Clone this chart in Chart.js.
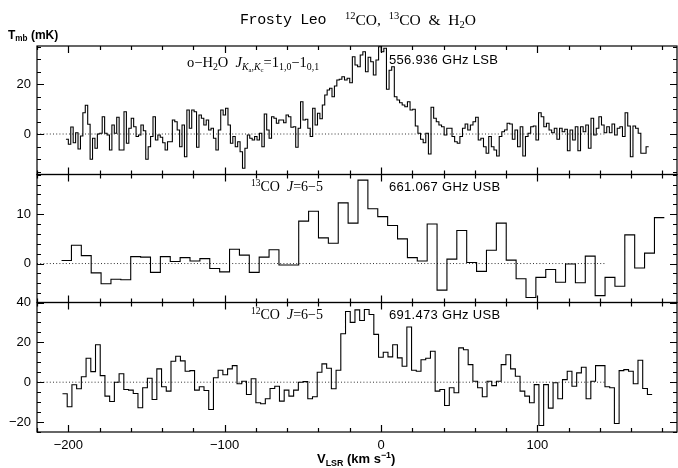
<!DOCTYPE html>
<html>
<head>
<meta charset="utf-8">
<script src="https://cdn.jsdelivr.net/npm/chart.js@4.4.1/dist/chart.umd.min.js"></script>
<style>
  body { margin: 0; background: #fff; }
  #wrap { position: relative; width: 678px; height: 468px; overflow: hidden; background: #fff; }
  #c { position: absolute; left: 0; top: 0; }
  .t { position: absolute; white-space: pre; line-height: 1; color: #000; }
  .serif { font-family: "Liberation Serif", "DejaVu Serif", serif; }
  .sans { font-family: "Liberation Sans", Arial, sans-serif; }
  .t sup { font-size: 68%; vertical-align: 0.55em; line-height: 0; }
  .t sub { font-size: 68%; vertical-align: -0.3em; line-height: 0; }
  .t i { font-style: italic; }
</style>
</head>
<body>
<div id="wrap">
  <canvas id="c" width="678" height="468"></canvas>

  <div class="t" style="left:240px;top:12px;font:15px 'Liberation Mono',monospace;letter-spacing:-0.4px">Frosty Leo</div>
  <div class="t serif" style="left:345px;top:12px;font-size:15.5px"><sup>12</sup>CO,  <sup>13</sup>CO  &amp;  H<sub>2</sub>O</div>

  <div class="t sans" style="left:8px;top:29px;font-size:12px;font-weight:bold">T<sub>mb</sub> (mK)</div>
  <div class="t sans" style="left:317px;top:452px;font-size:13px;font-weight:bold">V<sub>LSR</sub> (km s<sup>−1</sup>)</div>

  <div class="t serif" style="left:187px;top:55px;font-size:14.5px">o−H<sub>2</sub>O  <i>J</i><sub><i>K</i><sub>a</sub>,<i>K</i><sub>c</sub></sub>=1<sub>1,0</sub>−1<sub>0,1</sub></div>
  <div class="t sans" style="left:389px;top:53px;font-size:13px;letter-spacing:0.3px">556.936 GHz LSB</div>

  <div class="t serif" style="left:251px;top:180px;font-size:14px"><sup>13</sup>CO  <i>J</i>=6−5</div>
  <div class="t sans" style="left:389px;top:180px;font-size:13px;letter-spacing:0.3px">661.067 GHz USB</div>

  <div class="t serif" style="left:251px;top:308px;font-size:14px"><sup>12</sup>CO  <i>J</i>=6−5</div>
  <div class="t sans" style="left:389px;top:308px;font-size:13px;letter-spacing:0.3px">691.473 GHz USB</div>
</div>

<script>
// velocity axis (km/s)
const velRange = [-220, 189.3];
const velTicks = [-200, -100, 0, 100];
const baselineEnd = 144;

// o-H2O 1(1,0)-1(0,1), read in two stretches
const h2oSpanA = [-201.5, -26.7];
const h2oTmbA = [
  -2.1, -4.1, 2.8, -3.5, 0.5, -6, -0.8, 8.5, 11.5, 3.9,
  -10.1, -1.7, -5.7, 0, 0.3, 6.9, 0.3, -0.4, -6.4, 3.6,
  0.3, 6.7, -6.4, -6.4, 8.9, -3.7, 2.3, 6.3, 2.9, -1,
  -0.4, 3.6, 1.3, -10.1, -5.1, -1, 6.9, -2.4, -0.4, -1.3,
  -3.5, -6.4, -3.1, -3.1, 5.6, 4.9, 1.6, -5.1, 3.6, -9.1,
  9.6, 2.3, 9.6, 8.9, -5.3, 7.6, 6.3, 3.6, 5.6, 1.6,
  2.3, -1.7, -6.4, 1.6, 9.6, 7.6, 10.3, 3.6, -3.7, -1,
  -5.1, -3.1, -7.1, -13.7, -5.7, -0.4, -1.7, -2.4, -1, -2.4,
  0.3, -5.1, 8, 1.6, -1.7, 6.9, 6.3, 4.3, 5.6, 5.6,
  4.5, 7.6, 6.9, 2.7, 2.9, -5.3, 2.3, 12.9, 5.6, 5.9,
  2.3, -1, 10.3, 3.6, 8.3, 6.1, 11.6, 15.6, 17.6, 18.3,
  14.9, 19.2, 21.6
];
const h2oSpanB = [-26.7, 171.2];
const h2oTmbB = [
  21.9, 22.9, 21.6, 22.3, 20.5, 30.9, 27.6, 26.9, 31.6, 32.9,
  24.9, 30.7, 28.9, 23.6, 29.6, 34.9, 32.9, 34.3, 17.9, 25.5,
  26.9, 14.9, 13.6, 12.5, 11.6, 10.9, 12.9, 9.6, 9.9, 3.2,
  0.3, -2.1, -3.5, 0.3, -8, 10.7, 6.3, 4.9, 3.6, 2.9,
  -0.4, 2.3, 2.3, -1, -3.1, -3.7, -1, 2.3, 4, 1.6,
  3.6, 4.9, 6.7, -2.4, -1.7, -5.1, -7.7, -1, -5.1, -6.4,
  -8.8, -1, 0.9, 1.6, 4.3, 4, -2.1, 1.6, -5.1, 2.9,
  -8.8, -1, 0.3, 2.9, 3.2, -2.4, 8.5, 6.9, 2.9, 4.3,
  1.6, 0.5, 2.3, -2.1, 2.3, 0.9, 1.9, -6.7, 1.6, -2.4,
  2.9, -6.7, 2.9, 0.9, 3.6, -5.7, 6.3, -0.4, 2.3, 6.9,
  3.6, 0.5, 2.9, 0.5, 4, -0.4, 2.3, 2.9, -1, 8.5,
  3.2, -9.1, 3.2, 2.3, 0.3, -7.7, -7.7, -5.1
];

// 13CO J=6-5
const co13Span = [-204.3, 181.2];
const co13Tmb = [
  0.6, 3.7, 1.6, -1.9, -4.1, -3.2, -3.3, 1.4, 1.3, -1.8,
  1.4, 0.4, 1.2, 0.5, 1.0, -1.0, -1.7, 2.9, 1.7, -1.8,
  1.3, 2.8, -0.3, -0.3, 8.6, 10.6, 5.2, 4.1, 12.3, 8.2,
  16.9, 11.1, 9.5, 7.7, 5.0, 1.2, 0.5, 8.0, -5.4, 0.9,
  6.7, 0.2, -1.6, 2.7, 8.2, 0.7, -3.1, -6.9, -2.8, -1.2,
  -3.8, -0.1, -3.9, 1.5, -6.5, -2.8, -4.6, 5.8, -0.9, 2.1,
  9.3
];

// 12CO J=6-5
const co12Span = [-203.7, 173.4];
const co12Tmb = [
  -5.8, -12.3, -1.3, -3.3, 2.7, 12, 5.3, 18.8, 3.3, -7,
  -9.7, 0, 4.2, -3.7, -4, -5.7, -12.8, -2.8, 2, -8.7,
  6.7, -2.3, -4.5, 10.5, 13, 10.7, 5.5, 5.8, -4, -2.3,
  -4.2, -13.7, 2.2, 6, 3.7, 6.7, 8.3, -0.8, 0.5, -6.2,
  1.7, -10.3, -10.8, -8.3, -3.2, -2, -9.5, -4, -7, -4,
  0, 0.3, -8.3, -7.3, 5, 9.2, 7, -3.3, 6, 24.3,
  35.5, 30, 36.3, 31, 36.5, 34, 24,
  12.5, 15, 12.7, 18.8, 12.2, 8, 27.7, 6, 5.5, 11.3,
  12, 15.5, -4.5, -3.7, -11.7, -2.8, -5.3, 17.2, 16.3, 8.8,
  0.5, -2.8, -7.3, 0.5, -1.7, 0.5, 8.8, 13.8, 6.7, 3,
  -4.5, -7, -10.3, -1.2, -21.7, -1.2, -13, -0.3, -8.3, 1.3,
  5.5, -2, 4.7, 7.5, -8.3, 0.5, 8.3, 8.3, -2.3, -2.8,
  -20.7, 5.8, 6.3, 5.5, -0.8, 11, -3.2, -6.2
];

// y ranges (mK), labelled ticks and minor/major tick steps, top to bottom
const panelRanges = [[-16.2, 35.2], [-7.9, 18.05], [-25, 40]];
const panelTicks = [[0, 20], [0, 10], [-20, 0, 20, 40]];
const panelSteps = [[5, 20], [2, 10], [5, 20]];
const panelWeights = [128.5, 128, 129.5];

// channels -> left-edge points for a stepped line
function stepPoints(span, vals) {
  const w = (span[1] - span[0]) / vals.length;
  const pts = vals.map((t, i) => ({ x: span[0] + i * w, y: t }));
  pts.push({ x: span[1], y: vals[vals.length - 1] });
  return pts;
}

const fmt = v => String(v).replace("-", "\u2212");
const tickFont = { family: "'Liberation Sans', Arial, sans-serif", size: 13 };

function spectrum(pts, yId) {
  return { data: pts, yAxisID: yId, xAxisID: "x", stepped: "before", borderColor: "#000",
           borderWidth: 1.1, pointRadius: 0, fill: false, order: 1 };
}
function baseline(yId) {
  return { data: [{ x: velRange[0], y: 0 }, { x: baselineEnd, y: 0 }], yAxisID: yId, xAxisID: "x",
           borderColor: "#333", borderWidth: 1, borderDash: [1, 2.2], pointRadius: 0, order: 2 };
}

function yScale(i) {
  return {
    type: "linear", position: "left", stack: "spec", stackWeight: panelWeights[i], weight: 3 - i,
    min: panelRanges[i][0], max: panelRanges[i][1],
    grid: { display: false, drawTicks: false }, border: { display: false },
    ticks: { padding: 6, color: "#000", font: tickFont, callback: fmt },
    afterBuildTicks: s => { s.ticks = panelTicks[i].map(v => ({ value: v })); },
    afterFit: s => { s.width = 37; }
  };
}

// frame + inward ticks on all four sides of each panel
const framePlugin = {
  id: "frame",
  afterDatasetsDraw(chart) {
    const { ctx, chartArea: a, scales } = chart;
    const xs = scales.x;
    ctx.save();
    ctx.strokeStyle = "#000";
    ctx.lineWidth = 1.2;
    ["y1", "y2", "y3"].forEach((id, i) => {
      const ys = scales[id];
      ctx.strokeRect(a.left, ys.top, a.right - a.left, ys.bottom - ys.top);
      ctx.beginPath();
      for (let k = Math.ceil(xs.min / 20); k * 20 <= xs.max; k++) {
        const px = Math.round(xs.getPixelForValue(k * 20)) + 0.5;
        const L = k % 5 === 0 ? 7 : 4;
        ctx.moveTo(px, ys.top); ctx.lineTo(px, ys.top + L);
        ctx.moveTo(px, ys.bottom); ctx.lineTo(px, ys.bottom - L);
      }
      const [minor, major] = panelSteps[i];
      for (let k = Math.ceil(ys.min / minor); k * minor <= ys.max; k++) {
        const py = Math.round(ys.getPixelForValue(k * minor)) + 0.5;
        const L = (k * minor) % major === 0 ? 7 : 4;
        ctx.moveTo(a.left, py); ctx.lineTo(a.left + L, py);
        ctx.moveTo(a.right, py); ctx.lineTo(a.right - L, py);
      }
      ctx.stroke();
    });
    ctx.restore();
  }
};

const h2oPts = stepPoints(h2oSpanA, h2oTmbA).concat(stepPoints(h2oSpanB, h2oTmbB));

new Chart(document.getElementById("c"), {
  type: "line",
  data: {
    datasets: [
      spectrum(h2oPts, "y1"),
      spectrum(stepPoints(co13Span, co13Tmb), "y2"),
      spectrum(stepPoints(co12Span, co12Tmb), "y3"),
      baseline("y1"), baseline("y2"), baseline("y3")
    ]
  },
  options: {
    responsive: false,
    animation: false,
    layout: { padding: { top: 46, right: 1, left: 0, bottom: 0 } },
    plugins: { legend: { display: false }, tooltip: { enabled: false }, title: { display: false } },
    scales: {
      x: {
        type: "linear", position: "bottom", min: velRange[0], max: velRange[1],
        grid: { display: false, drawTicks: false }, border: { display: false },
        ticks: { padding: 6, color: "#000", font: tickFont, callback: fmt, maxRotation: 0, autoSkip: false },
        afterBuildTicks: s => { s.ticks = velTicks.map(v => ({ value: v })); },
        afterFit: s => { s.height = 36; }
      },
      y1: yScale(0),
      y2: yScale(1),
      y3: yScale(2)
    }
  },
  plugins: [framePlugin]
});
</script>
</body>
</html>
